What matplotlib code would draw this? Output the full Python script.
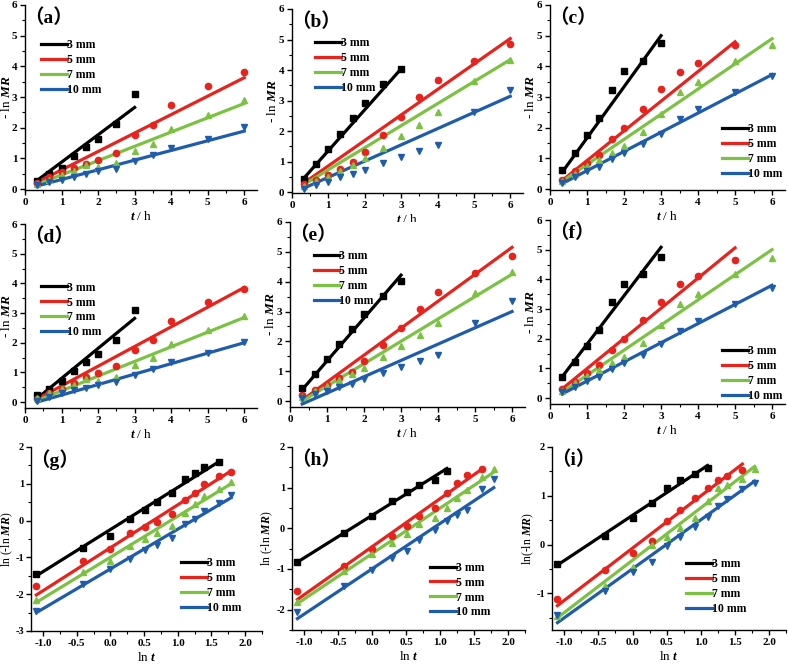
import matplotlib
matplotlib.use('Agg')
import matplotlib.pyplot as plt
from matplotlib.ticker import MultipleLocator, FormatStrFormatter

plt.rcParams['font.family'] = ['Liberation Serif', 'Noto Sans CJK SC']
plt.rcParams['font.weight'] = 'bold'
plt.rcParams['axes.unicode_minus'] = False
plt.rcParams['mathtext.fontset'] = 'custom'
plt.rcParams['mathtext.it'] = 'Liberation Serif:italic:bold'
plt.rcParams['mathtext.rm'] = 'Liberation Serif:bold'

# drying time (h) and its log
t_h = [0.33, 0.67, 1.0, 1.33, 1.67, 2.0, 2.5, 3.0, 3.5, 4.0, 5.0, 6.0]
ln_t = [-1.10, -0.41, 0.0, 0.29, 0.51, 0.69, 0.92, 1.10, 1.25, 1.39, 1.61, 1.79]

labels = ['3 mm', '5 mm', '7 mm', '10 mm']
colors = ['#000000', '#e8221c', '#7cc242', '#1f5cab']
markers = ['s', 'o', '^', 'v']

# -ln MR, one list per thickness (3, 5, 7, 10 mm)
a_y = [[0.25, 0.50, 0.69, 1.07, 1.37, 1.64, 2.11, 3.09],
       [0.20, 0.40, 0.55, 0.70, 0.82, 0.95, 1.18, 1.75, 2.09, 2.74, 3.37, 3.81],
       [0.15, 0.30, 0.45, 0.58, 0.78, 0.71, 0.84, 1.25, 1.48, 1.95, 2.42, 2.91],
       [0.12, 0.22, 0.30, 0.39, 0.49, 0.58, 0.66, 0.90, 1.10, 1.35, 1.64, 2.03]]
b_y = [[0.44, 0.92, 1.41, 1.91, 2.43, 2.92, 3.53, 4.02],
       [0.25, 0.40, 0.55, 0.77, 0.97, 1.33, 1.88, 2.45, 3.10, 3.67, 4.30, 4.85],
       [0.20, 0.35, 0.50, 0.70, 0.90, 1.11, 1.46, 1.85, 2.20, 2.61, 3.63, 4.33],
       [0.11, 0.24, 0.34, 0.48, 0.58, 0.73, 0.94, 1.15, 1.35, 1.53, 2.61, 3.36]]
c_y = [[0.62, 1.18, 1.75, 2.31, 3.23, 3.86, 4.19, 4.75],
       [0.30, 0.60, 0.85, 1.10, 1.62, 1.99, 2.62, 3.25, 3.83, 4.11, 4.68],
       [0.25, 0.50, 0.75, 0.95, 1.18, 1.40, 1.85, 2.45, 3.18, 3.50, 4.17, 4.71],
       [0.20, 0.38, 0.58, 0.72, 0.99, 1.17, 1.46, 1.81, 2.27, 2.60, 3.18, 3.70]]
d_y = [[0.23, 0.45, 0.70, 1.04, 1.35, 1.61, 2.09, 3.11],
       [0.10, 0.30, 0.45, 0.65, 0.85, 0.97, 1.20, 1.75, 2.10, 2.73, 3.37, 3.82],
       [0.15, 0.30, 0.45, 0.58, 0.78, 0.71, 0.84, 1.25, 1.48, 1.95, 2.42, 2.91],
       [0.05, 0.18, 0.30, 0.39, 0.49, 0.58, 0.66, 0.90, 1.10, 1.35, 1.66, 2.03]]
e_y = [[0.44, 0.92, 1.41, 1.91, 2.43, 2.92, 3.53, 4.02],
       [0.20, 0.38, 0.55, 0.77, 0.97, 1.33, 1.88, 2.45, 3.10, 3.67, 4.30, 4.85],
       [0.15, 0.35, 0.50, 0.70, 0.90, 1.11, 1.46, 1.85, 2.20, 2.61, 3.63, 4.33],
       [0.10, 0.24, 0.34, 0.48, 0.58, 0.73, 0.94, 1.15, 1.35, 1.53, 2.61, 3.36]]
f_y = [[0.71, 1.20, 1.75, 2.31, 3.23, 3.86, 4.19, 4.75],
       [0.30, 0.55, 0.83, 1.10, 1.62, 1.99, 2.62, 3.25, 3.83, 4.11, 4.65],
       [0.25, 0.50, 0.75, 0.95, 1.18, 1.40, 1.85, 2.45, 3.18, 3.50, 4.17, 4.71],
       [0.20, 0.38, 0.58, 0.72, 0.99, 1.17, 1.46, 1.81, 2.27, 2.60, 3.18, 3.70]]

# ln(-ln MR)
g_y = [[-1.45, -0.75, -0.42, 0.05, 0.29, 0.50, 0.75, 1.12, 1.28, 1.46, 1.58],
       [-1.78, -1.10, -0.77, -0.35, -0.18, -0.05, 0.17, 0.55, 0.75, 1.00, 1.20, 1.33],
       [-2.15, -1.41, -1.10, -0.70, -0.50, -0.35, -0.15, 0.20, 0.45, 0.66, 0.86, 1.06],
       [-2.45, -1.71, -1.32, -1.05, -0.81, -0.65, -0.46, -0.10, 0.05, 0.25, 0.48, 0.69]]
h_y = [[-0.83, -0.12, 0.30, 0.66, 0.90, 1.07, 1.20, 1.42],
       [-1.54, -0.92, -0.50, -0.20, 0.05, 0.30, 0.50, 0.87, 1.12, 1.30, 1.46],
       [-1.80, -1.05, -0.62, -0.35, -0.13, 0.11, 0.25, 0.50, 0.75, 0.95, 1.27, 1.47],
       [-2.05, -1.41, -1.02, -0.73, -0.55, -0.28, -0.03, 0.18, 0.32, 0.45, 0.96, 1.21]]
i_y = [[-0.40, 0.17, 0.55, 0.85, 1.16, 1.33, 1.45, 1.57],
       [-1.12, -0.52, -0.18, 0.08, 0.48, 0.70, 0.95, 1.17, 1.33, 1.40, 1.52],
       [-1.46, -0.85, -0.45, 0.00, 0.16, 0.35, 0.55, 0.89, 1.15, 1.23, 1.35, 1.55],
       [-1.45, -0.95, -0.56, -0.35, -0.02, 0.16, 0.36, 0.57, 0.80, 0.93, 1.14, 1.27]]

# fitted line values at first and last point of each series
a_fit = [(0.28, 2.66), (0.22, 3.63), (0.15, 2.79), (0.10, 1.89)]
b_fit = [(0.46, 4.04), (0.30, 5.03), (0.25, 4.34), (0.13, 3.14)]
c_fit = [(0.55, 5.00), (0.28, 4.80), (0.25, 4.90), (0.18, 3.73)]
d_fit = [(0.12, 2.82), (0.10, 3.86), (0.05, 2.85), (0.00, 2.00)]
e_fit = [(0.38, 4.22), (0.03, 5.15), (0.00, 4.25), (-0.10, 3.00)]
f_fit = [(0.72, 5.08), (0.31, 5.06), (0.20, 5.00), (0.14, 3.80)]
g_fit = [(-1.50, 1.60), (-2.02, 1.35), (-2.22, 1.00), (-2.50, 0.62)]
h_fit = [(-0.83, 1.47), (-1.75, 1.45), (-1.85, 1.38), (-2.22, 1.00)]
i_fit = [(-0.42, 1.62), (-1.25, 1.65), (-1.50, 1.60), (-1.60, 1.30)]

panels = [
    ('a', a_y, a_fit, 'upper left'), ('b', b_y, b_fit, 'upper left'), ('c', c_y, c_fit, 'lower right'),
    ('d', d_y, d_fit, 'upper left'), ('e', e_y, e_fit, 'upper left'), ('f', f_y, f_fit, 'lower right'),
    ('g', g_y, g_fit, 'lower right'), ('h', h_y, h_fit, 'lower right'), ('i', i_y, i_fit, 'lower right'),
]

W, H = 788, 664
fig = plt.figure(figsize=(W / 100, H / 100), dpi=100)

# axes boxes in pixels: left, top, width, height
boxes = [(25, 5, 232, 185), (292, 9, 231, 184), (550, 5, 235, 185),
         (25, 224, 232, 184), (290, 222, 235, 185), (550, 220, 235, 184),
         (31, 447, 231, 184), (292, 447, 233, 183), (552, 447, 234, 183)]
# pixel x of the y-label centre
ylabel_x = [6, 273, 531, 6, 271, 531, 7, 267, 528]
legend_anchor = {'a': (0.06, 0.83), 'b': (0.09, 0.86), 'c': (1.0, 0.04),
                 'd': (0.06, 0.70), 'e': (0.09, 0.86), 'f': (1.0, 0.0),
                 'g': (0.92, 0.08), 'h': (0.86, 0.05), 'i': (0.84, 0.07)}
ylims = {'g': (-3, 2), 'h': (-2.5, 2), 'i': (-1.75, 2)}
row_ylims = [(-0.03, 6), (-0.2, 6)]

for n, ((name, ys, fits, loc), box) in enumerate(zip(panels, boxes)):
    l, t, w, h = box
    ax = fig.add_axes([l / W, 1 - (t + h) / H, w / W, h / H])
    log_panel = n >= 6
    xs = ln_t if log_panel else t_h

    for k in range(4):
        npts = len(ys[k])
        x = xs[:npts]
        ax.plot(x, ys[k], linestyle='none', marker=markers[k], color=colors[k],
                markersize=4.5, zorder=3)
        ax.plot([x[0], x[-1]], list(fits[k]), color=colors[k], linewidth=2.3,
                label=labels[k], zorder=2)

    if log_panel:
        ax.set_xlim(-1.18, 2.25)
        ax.set_ylim(*ylims[name])
        ax.xaxis.set_major_locator(MultipleLocator(0.5))
        ax.xaxis.set_minor_locator(MultipleLocator(0.25))
        ax.xaxis.set_major_formatter(FormatStrFormatter('%.1f'))
        ax.yaxis.set_major_locator(MultipleLocator(1))
        ax.yaxis.set_minor_locator(MultipleLocator(0.5))
        ax.set_xlabel('ln $t$', fontsize=9.5)
        ylab = 'ln(-ln $MR$)' if name == 'i' else 'ln (-ln $MR$)'
        ax.set_ylabel(ylab, fontsize=8.5)
    else:
        ax.set_xlim(0, 6.35)
        ax.set_ylim(*row_ylims[n // 3])
        ax.xaxis.set_major_locator(MultipleLocator(1))
        ax.xaxis.set_minor_locator(MultipleLocator(0.5))
        ax.yaxis.set_major_locator(MultipleLocator(1))
        ax.yaxis.set_minor_locator(MultipleLocator(0.5))
        ax.set_xlabel('$t$ / h', fontsize=9.5)
        ax.set_ylabel('- ln $MR$', fontsize=9.5)
    ax.yaxis.set_label_coords((ylabel_x[n] - l) / w, 0.5)
    ax.xaxis.set_label_coords(0.5, -0.145)
    ax.xaxis.label.set_va('center')
    ax.yaxis.label.set_va('center')

    for side in ['top', 'right']:
        ax.spines[side].set_visible(False)
    for side in ['left', 'bottom']:
        ax.spines[side].set_linewidth(1.0)
    ax.tick_params(which='major', direction='out', length=3.5, width=1, labelsize=8, pad=2)
    ax.tick_params(which='minor', direction='out', length=2, width=0.8)
    if log_panel:
        ax.tick_params(axis='y', which='major', labelsize=7.5, pad=1.5)
    for lab in ax.get_xticklabels() + ax.get_yticklabels():
        lab.set_fontweight('bold')

    ax.text(-0.005, 0.93, '（' + name + '）', transform=ax.transAxes, fontsize=14,
            fontweight='bold', va='center', ha='left')

    ax.legend(loc=loc, bbox_to_anchor=legend_anchor[name], frameon=False,
              handlelength=2.2, handletextpad=0.0, labelspacing=0.25,
              borderpad=0.2, borderaxespad=0.0, prop={'weight': 'bold', 'size': 8.5})

fig.savefig('out.png', dpi=100, facecolor='white')
